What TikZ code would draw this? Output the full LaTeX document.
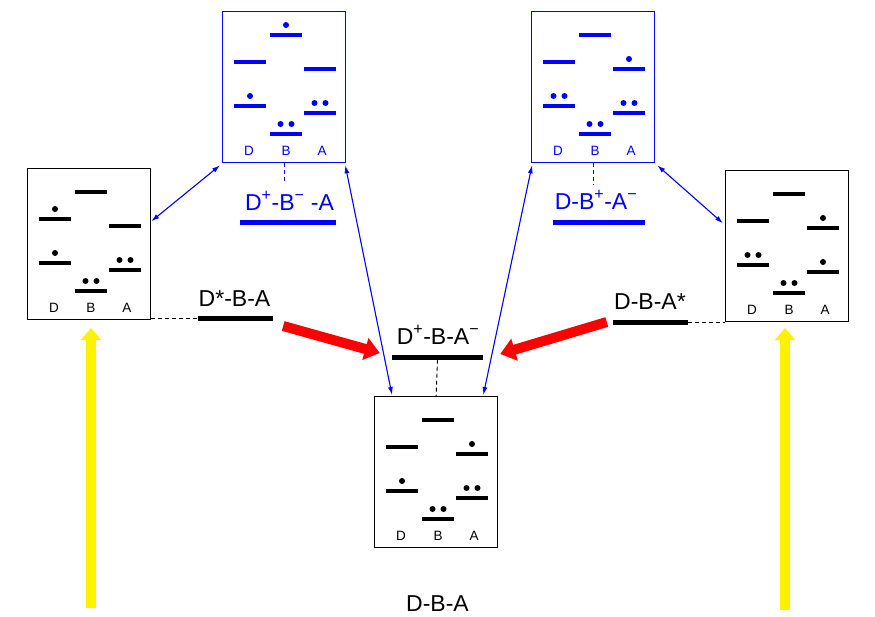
\documentclass[tikz,border=0pt]{standalone}
\usepackage{fontspec}
\setmainfont{Liberation Sans}
\usetikzlibrary{arrows.meta,calc}

% one orbital level (centre x, y, number of electrons 0/1/2)
\newcommand{\lvl}[3]{%
  \draw[orbital] (#1-16,#2) -- (#1+16,#2);
  \ifcase#3\or
    \fill (#1,#2-10) circle[radius=3pt];
  \or
    \fill (#1-5.5,#2-10) circle[radius=3pt] (#1+5.5,#2-10) circle[radius=3pt];
  \fi}

% the six levels of D, B and A inside a box node
% #1 box, #2 colour, #3..#8 electrons on B(top), D(up), A(up), D(low), A(low), B(low)
\newcommand{\orbitals}[8]{%
  \begin{scope}[shift={(#1.north west)}, #2]
    \lvl{64}{24}{#3}
    \lvl{28}{51}{#4}
    \lvl{98}{58}{#5}
    \lvl{28}{95}{#6}
    \lvl{98}{102}{#7}
    \lvl{64}{123}{#8}
    \node[boxlabel] (#1-D) at (27,144) {D};
    \node[boxlabel] (#1-B) at (64,144) {B};
    \node[boxlabel] (#1-A) at (100,144) {A};
  \end{scope}}

\tikzset{
  mobox/.style={draw, line width=1.3pt, minimum width=123pt, minimum height=151pt,
    inner sep=0pt, anchor=north west},
  orbital/.style={line width=4.5pt},
  boxlabel/.style={anchor=base, font=\fontsize{13.5}{15}\selectfont},
  statebar/.style={fill, rectangle, inner sep=0pt, minimum height=5pt},
  statelabel/.style={anchor=base, font=\fontsize{23}{27}\selectfont},
  leveldash/.style={line width=0.9pt, dash pattern=on 4pt off 3pt},
  coupling/.style={blue, line width=1.1pt, {Latex[length=8pt,width=5pt]}-{Latex[length=8pt,width=5pt]}},
  transfer/.style={red, line width=10pt, -{Triangle[length=15pt,width=22pt]}},
  excite/.style={yellow, line width=10pt, -{Triangle[length=12pt,width=20pt]}}
}

\begin{document}
\begin{tikzpicture}[x=1pt,y=-1pt]
\useasboundingbox (0,0) rectangle (875,616);

% boxes
\node[mobox] (boxL) at (27,168) {};
\node[mobox] (boxR) at (725,170) {};
\node[mobox] (boxC) at (374,396) {};
\node[mobox, blue] (boxTL) at (222,11) {};
\node[mobox, blue] (boxTR) at (531,11) {};

\orbitals{boxL}{black}{0}{1}{0}{1}{2}{2}
\orbitals{boxR}{black}{0}{0}{1}{2}{1}{2}
\orbitals{boxC}{black}{0}{0}{1}{1}{2}{2}
\orbitals{boxTL}{blue}{1}{0}{0}{1}{2}{2}
\orbitals{boxTR}{blue}{0}{0}{1}{2}{2}{2}

% state levels
\node[statebar, minimum width=75pt] (sDs) at (235.5,318) {};
\node[statebar, minimum width=75pt] (sAs) at (650.5,322) {};
\node[statebar, minimum width=91pt] (sCT) at (437.5,357) {};
\node[statebar, blue, minimum width=96pt] (sBm) at (288,222) {};
\node[statebar, blue, minimum width=92pt] (sBp) at (599,222) {};

\node[statelabel] (tDs) at (234.5,306) {D*-B-A};
\node[statelabel] (tAs) at (650,309) {D-B-A*};
\node[statelabel] (tCT) at (438,344) {D\textsuperscript{+}-B-A\textsuperscript{−}};
\node[statelabel, blue] (tBm) at (289.5,210) {D\textsuperscript{+}-B\textsuperscript{−} -A};
\node[statelabel, blue] (tBp) at (596,209) {D-B\textsuperscript{+}-A\textsuperscript{−}};
\node[statelabel] (tG) at (437.5,611) {D-B-A};

% dashed links between boxes and state levels
\draw[leveldash] (sDs.west -| boxL.east) -- (sDs.west);
\draw[leveldash] (sAs.east) -- (sAs.east -| boxR.west);
\draw[leveldash] (sCT.south) -- (boxC.north);
\draw[leveldash, blue] (boxTL.south) -- ++(0,20);
\draw[leveldash, blue] (boxTR.south) -- ++(0,22);

% couplings through the bridge states
\draw[coupling] ($(boxL.north east)!0.35!(boxL.south east)$) -- ($(boxTL.south west)+(-2,2)$);
\draw[coupling] ($(boxTL.south east)+(-1,2)$) -- ($(boxC.north west)+(18,-1)$);
\draw[coupling] ($(boxC.north east)+(-15,-1)$) -- ($(boxTR.south west)+(1,2)$);
\draw[coupling] ($(boxTR.south east)+(2,2)$) -- ($(boxR.north west)!0.35!(boxR.south west)+(-2,0)$);

% charge transfer
\draw[transfer] ($(sDs.east)+(10,8)$) -- ($(sCT.west)+(-12,-4)$);
\draw[transfer] ($(sAs.west)+(-6,0)$) -- ($(sCT.east)+(17,-3)$);

% excitation
\coordinate (yL0) at (91,608);
\coordinate (yL1) at (91,328);
\coordinate (yR0) at (785,610);
\coordinate (yR1) at (785,328);
\draw[excite] (yL0) -- (yL1);
\draw[excite] (yR0) -- (yR1);
\end{tikzpicture}
\end{document}
